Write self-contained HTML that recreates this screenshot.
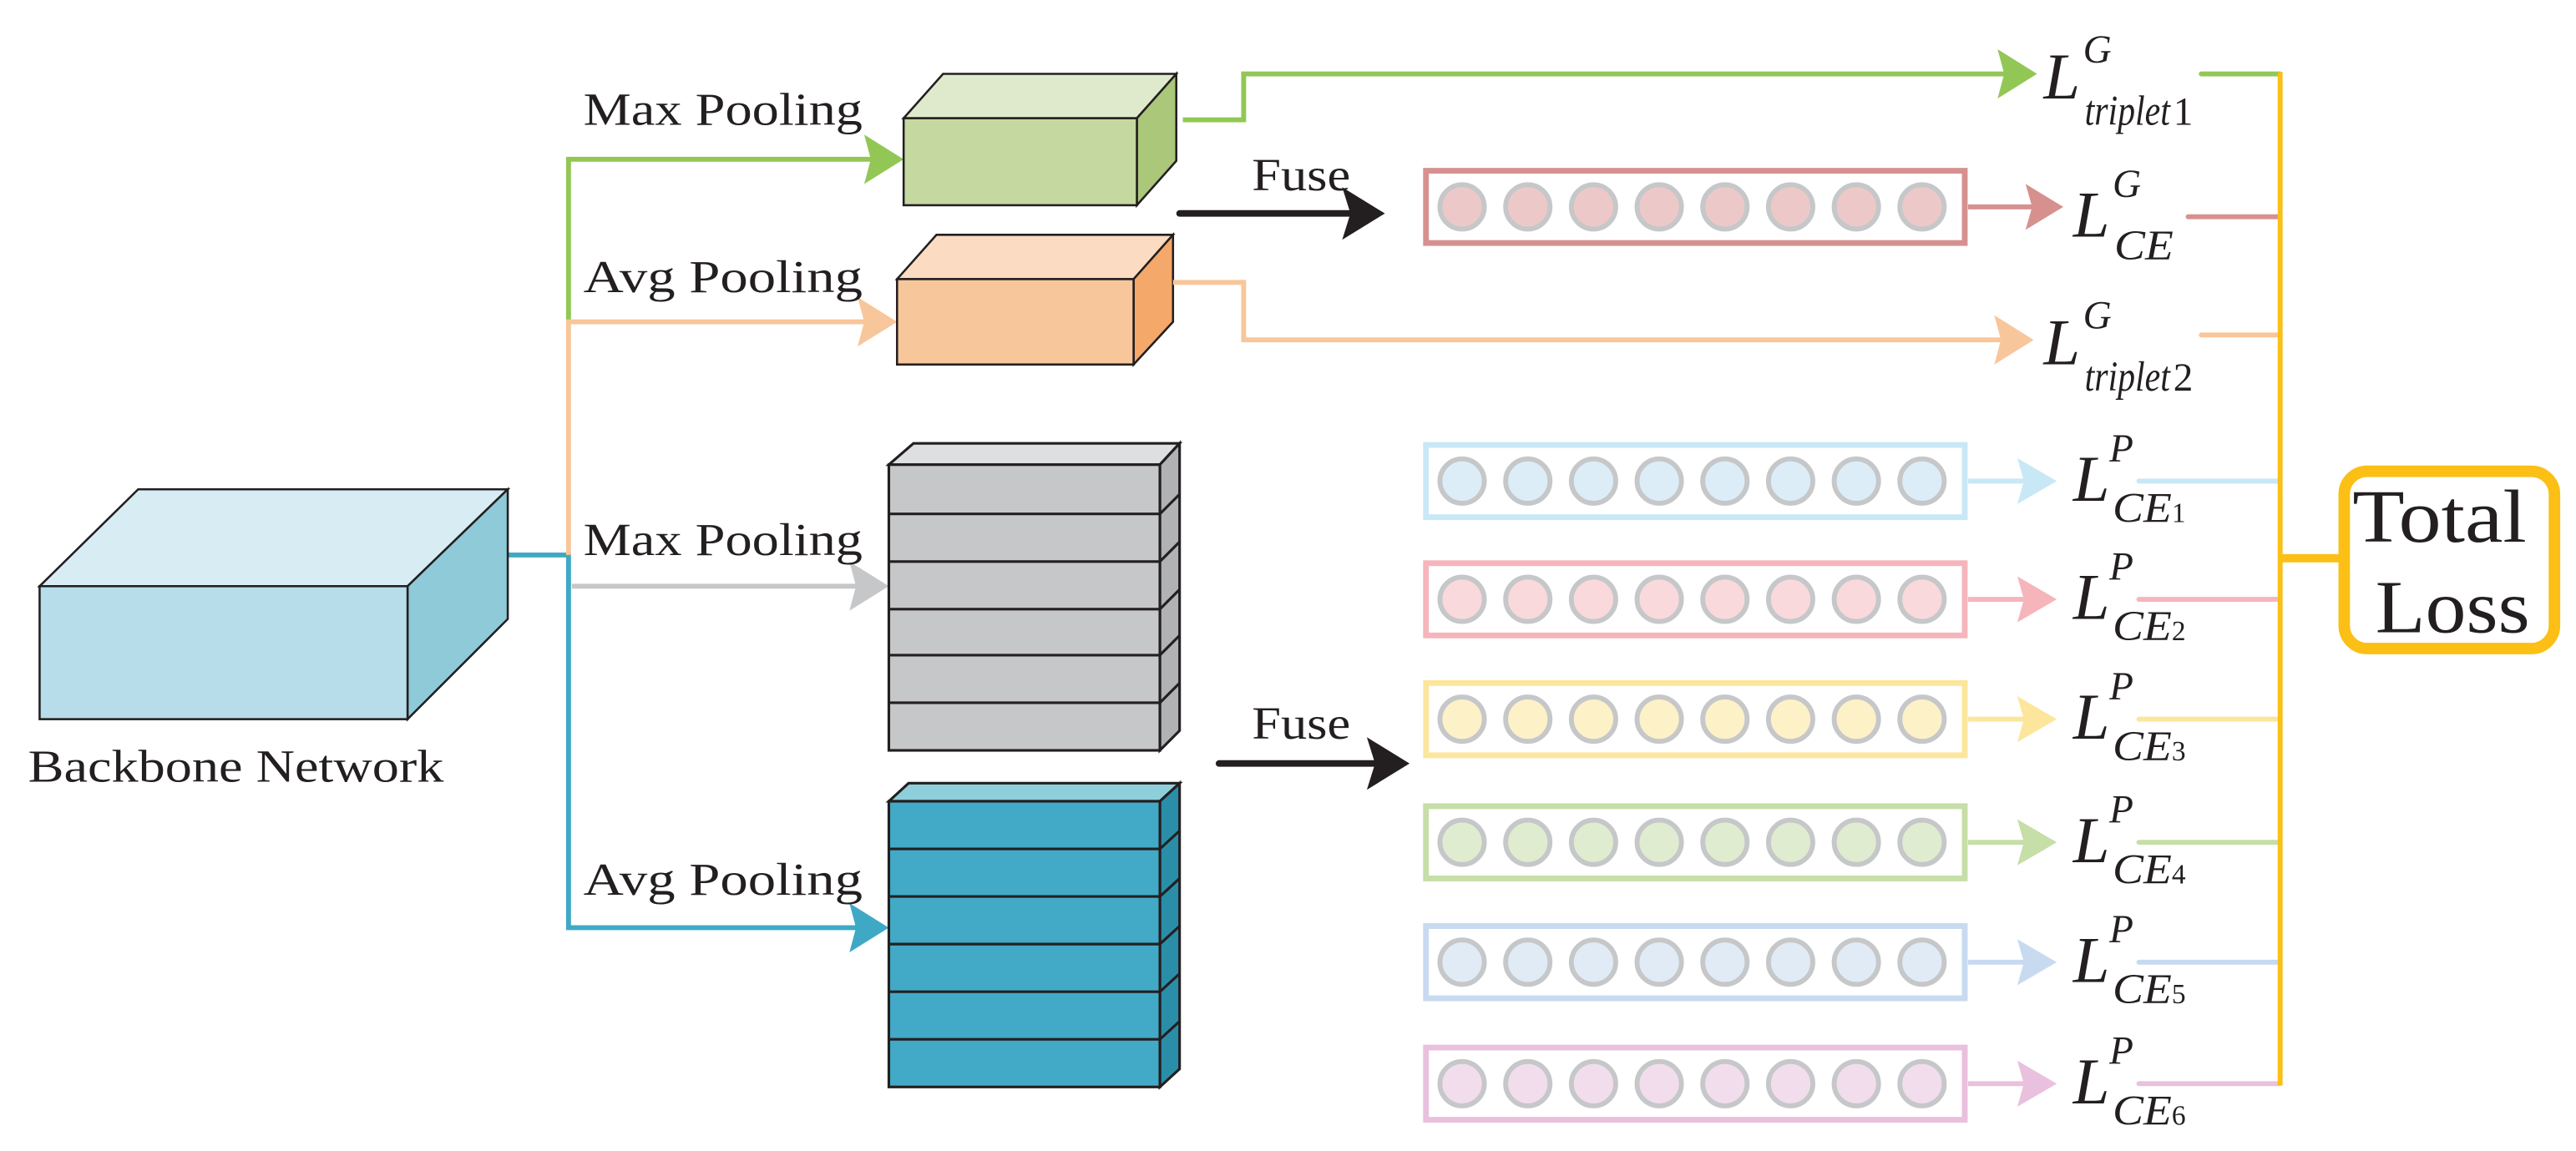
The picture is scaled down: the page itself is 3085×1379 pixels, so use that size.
<!DOCTYPE html>
<html><head><meta charset="utf-8"><style>
html,body{margin:0;padding:0;background:#fff;}
svg{display:block;}
text{font-family:"Liberation Serif",serif;fill:#231f20;}
</style></head><body>
<svg width="3085" height="1379" viewBox="0 0 1568 701" xmlns="http://www.w3.org/2000/svg">
<style>
.c{stroke:#231f20;stroke-width:1.3;}
</style>

<g fill="none" stroke-width="3">
<polyline points="309,338 346,338 346,565 525,565" stroke="#3fa9c5"/>
<polyline points="346,196 346,97 532,97" stroke="#92c755"/>
<polyline points="346,338 346,196 528,196" stroke="#f8c69b"/>
<line x1="348" y1="357" x2="523" y2="357" stroke="#c6c7c9"/>
</g>
<polygon points="550,97 526,82 530,97 526,112" fill="#92c755"/>
<polygon points="546,196 522,181 526,196 522,211" fill="#f8c69b"/>
<polygon points="541,357 517,342 521,357 517,372" fill="#c6c7c9"/>
<polygon points="541,565 517,550 521,565 517,580" fill="#3fa9c5"/>

<polygon class="c" points="24,357 84,298 309,298 248,357" fill="#d8ecf4"/>
<polygon class="c" points="248,357 309,298 309,377 248,438" fill="#8ecad8"/>
<rect class="c" x="24" y="357" width="224" height="81" fill="#b7dcea"/>
<text x="17" y="476" font-size="28" textLength="253" lengthAdjust="spacingAndGlyphs">Backbone Network</text>

<text x="355" y="76" font-size="28" textLength="170" lengthAdjust="spacingAndGlyphs">Max Pooling</text>
<text x="355" y="178" font-size="28" textLength="170" lengthAdjust="spacingAndGlyphs">Avg Pooling</text>
<text x="355" y="338" font-size="28" textLength="170" lengthAdjust="spacingAndGlyphs">Max Pooling</text>
<text x="355" y="545" font-size="28" textLength="170" lengthAdjust="spacingAndGlyphs">Avg Pooling</text>

<polygon class="c" points="550,72 574,45 716,45 692,72" fill="#dfeacc"/>
<polygon class="c" points="692,72 716,45 716,98 692,125" fill="#aac77a"/>
<rect class="c" x="550" y="72" width="142" height="53" fill="#c5d8a0"/>
<polygon class="c" points="546,170 570,143 714,143 690,170" fill="#fbdcc3"/>
<polygon class="c" points="690,170 714,143 714,196 690,222" fill="#f4a869"/>
<rect class="c" x="546" y="170" width="144" height="52" fill="#f8c69b"/>

<g stroke="#231f20" stroke-width="1.6">
<polygon points="541,283 556,270 718,270 706,283" fill="#dedfe0"/>
<polygon points="706,283 718,270 718,445 706,457" fill="#b1b2b4"/>
<rect x="541" y="283" width="165" height="174" fill="#c6c7c9"/>
<line x1="541" y1="313" x2="706" y2="313"/><line x1="541" y1="342" x2="706" y2="342"/>
<line x1="541" y1="371" x2="706" y2="371"/><line x1="541" y1="399" x2="706" y2="399"/>
<line x1="541" y1="428" x2="706" y2="428"/>
<line x1="706" y1="313" x2="718" y2="301"/><line x1="706" y1="342" x2="718" y2="330"/>
<line x1="706" y1="371" x2="718" y2="359"/><line x1="706" y1="399" x2="718" y2="387"/>
<line x1="706" y1="428" x2="718" y2="416"/>
</g>
<g stroke="#231f20" stroke-width="1.6">
<polygon points="541,488 553,477 718,477 706,488" fill="#8ecfdc"/>
<polygon points="706,488 718,477 718,651 706,662" fill="#2b8ea8"/>
<rect x="541" y="488" width="165" height="174" fill="#42aac6"/>
<line x1="541" y1="517" x2="706" y2="517"/><line x1="541" y1="546" x2="706" y2="546"/>
<line x1="541" y1="575" x2="706" y2="575"/><line x1="541" y1="604" x2="706" y2="604"/>
<line x1="541" y1="633" x2="706" y2="633"/>
<line x1="706" y1="517" x2="718" y2="506"/><line x1="706" y1="546" x2="718" y2="535"/>
<line x1="706" y1="575" x2="718" y2="564"/><line x1="706" y1="604" x2="718" y2="593"/>
<line x1="706" y1="633" x2="718" y2="622"/>
</g>

<line x1="718" y1="130" x2="825" y2="130" stroke="#231f20" stroke-width="4" stroke-linecap="round"/>
<polygon points="843,130 817,114 822,130 817,146" fill="#231f20"/>
<text x="762" y="116" font-size="28" textLength="60" lengthAdjust="spacingAndGlyphs">Fuse</text>
<line x1="742" y1="465" x2="840" y2="465" stroke="#231f20" stroke-width="4" stroke-linecap="round"/>
<polygon points="858,465 832,449 837,465 832,481" fill="#231f20"/>
<text x="762" y="450" font-size="28" textLength="60" lengthAdjust="spacingAndGlyphs">Fuse</text>

<polyline points="720,73 757,73 757,45 1225,45" fill="none" stroke="#92c755" stroke-width="3"/>
<polygon points="1240,45 1216,30 1220,45 1216,60" fill="#92c755"/>
<polyline points="714,172 757,172 757,207 1222,207" fill="none" stroke="#f8c69b" stroke-width="3"/>
<polygon points="1238,207 1214,192 1218,207 1214,222" fill="#f8c69b"/>

<g>
<rect x="868" y="104" width="328" height="44" fill="#fff" stroke="#d6918f" stroke-width="3.5"/>
<g fill="#ecc9c8" stroke="#c6c7c9" stroke-width="3">
<circle cx="890" cy="126" r="13.5"/><circle cx="930" cy="126" r="13.5"/><circle cx="970" cy="126" r="13.5"/><circle cx="1010" cy="126" r="13.5"/><circle cx="1050" cy="126" r="13.5"/><circle cx="1090" cy="126" r="13.5"/><circle cx="1130" cy="126" r="13.5"/><circle cx="1170" cy="126" r="13.5"/>
</g>
<line x1="1198" y1="126" x2="1240" y2="126" stroke="#d6918f" stroke-width="3"/>
<polygon points="1256,126 1233,112 1237,126 1233,140" fill="#d6918f"/>
</g>

<g>
<rect x="868" y="271" width="328" height="44" fill="#fff" stroke="#c9e8f6" stroke-width="3.5"/>
<g fill="#dcedf7" stroke="#c6c7c9" stroke-width="3"><circle cx="890" cy="293" r="13.5"/><circle cx="930" cy="293" r="13.5"/><circle cx="970" cy="293" r="13.5"/><circle cx="1010" cy="293" r="13.5"/><circle cx="1050" cy="293" r="13.5"/><circle cx="1090" cy="293" r="13.5"/><circle cx="1130" cy="293" r="13.5"/><circle cx="1170" cy="293" r="13.5"/></g>
<line x1="1198" y1="293" x2="1235" y2="293" stroke="#c9e8f6" stroke-width="3"/><polygon points="1252,293 1228,279 1232,293 1228,307" fill="#c9e8f6"/>
</g>
<g>
<rect x="868" y="343" width="328" height="44" fill="#fff" stroke="#f6b5bb" stroke-width="3.5"/>
<g fill="#f9d9dc" stroke="#c6c7c9" stroke-width="3"><circle cx="890" cy="365" r="13.5"/><circle cx="930" cy="365" r="13.5"/><circle cx="970" cy="365" r="13.5"/><circle cx="1010" cy="365" r="13.5"/><circle cx="1050" cy="365" r="13.5"/><circle cx="1090" cy="365" r="13.5"/><circle cx="1130" cy="365" r="13.5"/><circle cx="1170" cy="365" r="13.5"/></g>
<line x1="1198" y1="365" x2="1235" y2="365" stroke="#f6b5bb" stroke-width="3"/><polygon points="1252,365 1228,351 1232,365 1228,379" fill="#f6b5bb"/>
</g>
<g>
<rect x="868" y="416" width="328" height="44" fill="#fff" stroke="#fce69c" stroke-width="3.5"/>
<g fill="#fdf1c8" stroke="#c6c7c9" stroke-width="3"><circle cx="890" cy="438" r="13.5"/><circle cx="930" cy="438" r="13.5"/><circle cx="970" cy="438" r="13.5"/><circle cx="1010" cy="438" r="13.5"/><circle cx="1050" cy="438" r="13.5"/><circle cx="1090" cy="438" r="13.5"/><circle cx="1130" cy="438" r="13.5"/><circle cx="1170" cy="438" r="13.5"/></g>
<line x1="1198" y1="438" x2="1235" y2="438" stroke="#fce69c" stroke-width="3"/><polygon points="1252,438 1228,424 1232,438 1228,452" fill="#fce69c"/>
</g>
<g>
<rect x="868" y="491" width="328" height="44" fill="#fff" stroke="#c6dea7" stroke-width="3.5"/>
<g fill="#dfecd0" stroke="#c6c7c9" stroke-width="3"><circle cx="890" cy="513" r="13.5"/><circle cx="930" cy="513" r="13.5"/><circle cx="970" cy="513" r="13.5"/><circle cx="1010" cy="513" r="13.5"/><circle cx="1050" cy="513" r="13.5"/><circle cx="1090" cy="513" r="13.5"/><circle cx="1130" cy="513" r="13.5"/><circle cx="1170" cy="513" r="13.5"/></g>
<line x1="1198" y1="513" x2="1235" y2="513" stroke="#c6dea7" stroke-width="3"/><polygon points="1252,513 1228,499 1232,513 1228,527" fill="#c6dea7"/>
</g>
<g>
<rect x="868" y="564" width="328" height="44" fill="#fff" stroke="#c8daf0" stroke-width="3.5"/>
<g fill="#e1ebf6" stroke="#c6c7c9" stroke-width="3"><circle cx="890" cy="586" r="13.5"/><circle cx="930" cy="586" r="13.5"/><circle cx="970" cy="586" r="13.5"/><circle cx="1010" cy="586" r="13.5"/><circle cx="1050" cy="586" r="13.5"/><circle cx="1090" cy="586" r="13.5"/><circle cx="1130" cy="586" r="13.5"/><circle cx="1170" cy="586" r="13.5"/></g>
<line x1="1198" y1="586" x2="1235" y2="586" stroke="#c8daf0" stroke-width="3"/><polygon points="1252,586 1228,572 1232,586 1228,600" fill="#c8daf0"/>
</g>
<g>
<rect x="868" y="638" width="328" height="44" fill="#fff" stroke="#e9c0dd" stroke-width="3.5"/>
<g fill="#f2dded" stroke="#c6c7c9" stroke-width="3"><circle cx="890" cy="660" r="13.5"/><circle cx="930" cy="660" r="13.5"/><circle cx="970" cy="660" r="13.5"/><circle cx="1010" cy="660" r="13.5"/><circle cx="1050" cy="660" r="13.5"/><circle cx="1090" cy="660" r="13.5"/><circle cx="1130" cy="660" r="13.5"/><circle cx="1170" cy="660" r="13.5"/></g>
<line x1="1198" y1="660" x2="1235" y2="660" stroke="#e9c0dd" stroke-width="3"/><polygon points="1252,660 1228,646 1232,660 1228,674" fill="#e9c0dd"/>
</g>

<g stroke-width="3" stroke-linecap="round">
<line x1="1340" y1="45" x2="1388" y2="45" stroke="#92c755"/>
<line x1="1332" y1="132" x2="1388" y2="132" stroke="#d6918f"/>
<line x1="1340" y1="204" x2="1388" y2="204" stroke="#f8c69b"/>
<line x1="1302" y1="293" x2="1388" y2="293" stroke="#c9e8f6"/>
<line x1="1302" y1="365" x2="1388" y2="365" stroke="#f6b5bb"/>
<line x1="1302" y1="438" x2="1388" y2="438" stroke="#fce69c"/>
<line x1="1302" y1="513" x2="1388" y2="513" stroke="#c6dea7"/>
<line x1="1302" y1="586" x2="1388" y2="586" stroke="#c8daf0"/>
<line x1="1302" y1="660" x2="1388" y2="660" stroke="#e9c0dd"/>
</g>
<line x1="1388" y1="44" x2="1388" y2="661" stroke="#fbbf15" stroke-width="3"/>
<line x1="1388" y1="340" x2="1427" y2="340" stroke="#fbbf15" stroke-width="5"/>
<rect x="1427" y="287" width="128" height="108" rx="14" fill="#fff" stroke="#fbbf15" stroke-width="7"/>
<text x="1432" y="330" font-size="46" textLength="106" lengthAdjust="spacingAndGlyphs">Total</text>
<text x="1446" y="385" font-size="46" textLength="94" lengthAdjust="spacingAndGlyphs">Loss</text>

<g font-style="italic">
<text x="1244" y="60" font-size="40">L</text><text x="1268" y="38" font-size="24">G</text><text x="1269" y="76" font-size="26" textLength="52" lengthAdjust="spacingAndGlyphs">triplet</text><text x="1323" y="76" font-size="24" font-style="normal">1</text>
<text x="1262" y="144" font-size="40">L</text><text x="1286" y="120" font-size="24">G</text><text x="1287" y="158" font-size="26" textLength="36" lengthAdjust="spacingAndGlyphs">CE</text>
<text x="1244" y="222" font-size="40">L</text><text x="1268" y="200" font-size="24">G</text><text x="1269" y="238" font-size="26" textLength="52" lengthAdjust="spacingAndGlyphs">triplet</text><text x="1323" y="238" font-size="24" font-style="normal">2</text>
</g>
<g font-style="italic">
<text x="1262" y="305" font-size="40">L</text><text x="1284" y="281" font-size="24">P</text><text x="1286" y="318" font-size="26" textLength="36" lengthAdjust="spacingAndGlyphs">CE</text><text x="1322" y="318" font-size="17" font-style="normal">1</text>
<text x="1262" y="377" font-size="40">L</text><text x="1284" y="353" font-size="24">P</text><text x="1286" y="390" font-size="26" textLength="36" lengthAdjust="spacingAndGlyphs">CE</text><text x="1322" y="390" font-size="17" font-style="normal">2</text>
<text x="1262" y="450" font-size="40">L</text><text x="1284" y="426" font-size="24">P</text><text x="1286" y="463" font-size="26" textLength="36" lengthAdjust="spacingAndGlyphs">CE</text><text x="1322" y="463" font-size="17" font-style="normal">3</text>
<text x="1262" y="525" font-size="40">L</text><text x="1284" y="501" font-size="24">P</text><text x="1286" y="538" font-size="26" textLength="36" lengthAdjust="spacingAndGlyphs">CE</text><text x="1322" y="538" font-size="17" font-style="normal">4</text>
<text x="1262" y="598" font-size="40">L</text><text x="1284" y="574" font-size="24">P</text><text x="1286" y="611" font-size="26" textLength="36" lengthAdjust="spacingAndGlyphs">CE</text><text x="1322" y="611" font-size="17" font-style="normal">5</text>
<text x="1262" y="672" font-size="40">L</text><text x="1284" y="648" font-size="24">P</text><text x="1286" y="685" font-size="26" textLength="36" lengthAdjust="spacingAndGlyphs">CE</text><text x="1322" y="685" font-size="17" font-style="normal">6</text>
</g>
</svg>
</body></html>
